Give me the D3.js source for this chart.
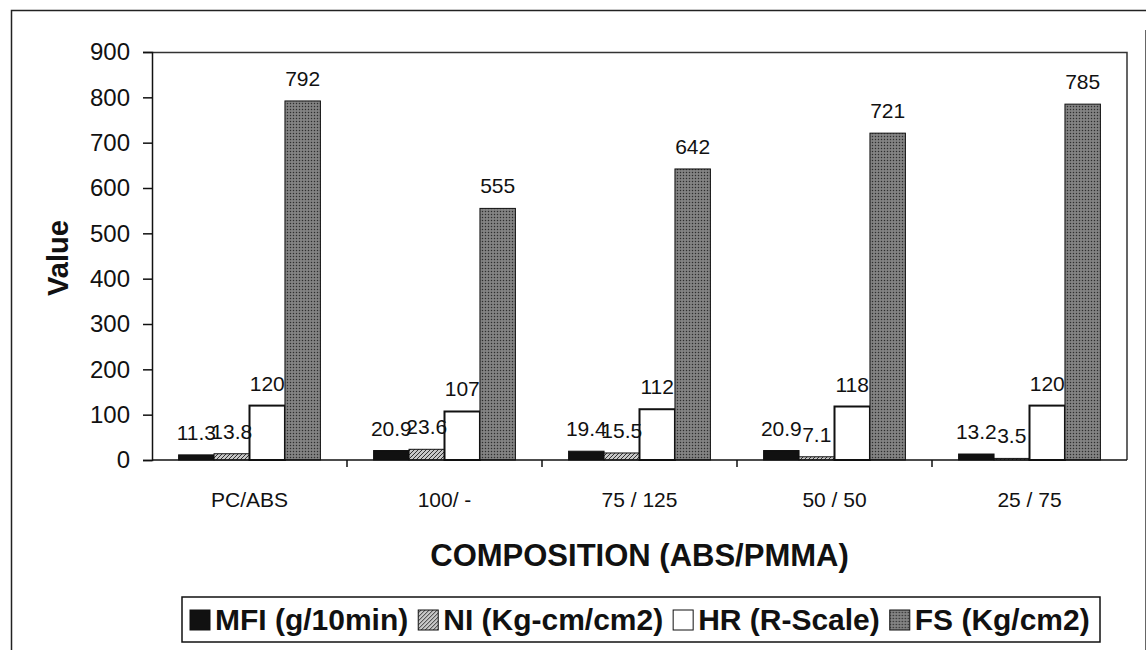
<!DOCTYPE html>
<html>
<head>
<meta charset="utf-8">
<script src="https://cdn.jsdelivr.net/npm/d3@7"></script>
<style>
  body { margin: 0; background: #fff; }
  text { font-family: "Liberation Sans", Arial, sans-serif; fill: #111; }
</style>
</head>
<body>
<svg id="chart" width="1146" height="650"></svg>
<script>
// data
var categories = ["PC/ABS", "100/ -", "75 / 125", "50 / 50", "25 / 75"];
var seriesNames = ["MFI (g/10min)", "NI (Kg-cm/cm2)", "HR (R-Scale)", "FS (Kg/cm2)"];
var mfi = [11.3, 20.9, 19.4, 20.9, 13.2];
var ni = [13.8, 23.6, 15.5, 7.1, 3.5];
var hr = [120, 107, 112, 118, 120];
var fs = [792, 555, 642, 721, 785];
var yTicks = [0, 100, 200, 300, 400, 500, 600, 700, 800, 900];

drawChart();

function drawChart() {
  var svg = d3.select("#chart");
  svg.selectAll("*").remove();

  var margin = {top: 52, right: 19, bottom: 190, left: 152};
  var width = 1146 - margin.left - margin.right,
      height = 650 - margin.top - margin.bottom;

  // patterns for the textured bars
  var defs = svg.append("defs");
  var p1 = defs.append("pattern").attr("id", "niFill")
      .attr("width", 4).attr("height", 4).attr("patternUnits", "userSpaceOnUse");
  p1.append("rect").attr("width", 4).attr("height", 4).attr("fill", "#c8c8c8");
  p1.append("path").attr("d", "M0,4 L4,0").attr("stroke", "#333").attr("stroke-width", 1);
  var p2 = defs.append("pattern").attr("id", "fsFill")
      .attr("width", 3).attr("height", 3).attr("patternUnits", "userSpaceOnUse");
  p2.append("rect").attr("width", 3).attr("height", 3).attr("fill", "#767676");
  p2.append("rect").attr("width", 1).attr("height", 1).attr("fill", "#2e2e2e");
  p2.append("rect").attr("x", 1.5).attr("y", 1.5).attr("width", 1).attr("height", 1).attr("fill", "#a8a8a8");

  // outer frame
  svg.append("path")
      .attr("d", "M11.5,660 L11.5,10.5 L1146,10.5")
      .attr("fill", "none").attr("stroke", "#222").attr("stroke-width", 1.5);
  svg.append("line")
      .attr("x1", 1145.5).attr("x2", 1145.5).attr("y1", 30).attr("y2", 660)
      .attr("stroke", "#666").attr("stroke-width", 1);

  var g = svg.append("g").attr("transform", "translate(" + margin.left + "," + margin.top + ")");

  var x0 = d3.scaleBand().domain(categories).range([0, width]).padding(0);
  var x1 = d3.scaleBand().domain(seriesNames).range([0, x0.bandwidth()])
      .paddingInner(0).paddingOuter(0.75);
  var y = d3.scaleLinear().domain([0, 900]).range([height, 0]);

  var values = [mfi, ni, hr, fs];
  var fills = ["#111", "url(#niFill)", "#fff", "url(#fsFill)"];

  // plot frame (top and right)
  g.append("path")
      .attr("d", "M0,0.5 L" + width + ",0.5 L" + width + "," + height)
      .attr("fill", "none").attr("stroke", "#333").attr("stroke-width", 1.5);

  var rows = [];
  categories.forEach(function(c, i) {
    seriesNames.forEach(function(s, j) {
      rows.push({cat: c, series: s, idx: j, value: values[j][i]});
    });
  });

  g.selectAll(".bar")
    .data(rows)
    .enter().append("rect")
      .attr("class", "bar")
      .attr("x", function(d) { return x0(d.cat) + x1(d.series); })
      .attr("y", function(d) { return y(d.value); })
      .attr("width", x1.bandwidth())
      .attr("height", function(d) { return height - y(d.value); })
      .attr("fill", function(d) { return fills[d.idx]; })
      .attr("stroke", "#111")
      .attr("stroke-width", function(d) { return d.idx == 2 ? 2 : 1; });

  g.selectAll(".lbl")
    .data(rows)
    .enter().append("text")
      .attr("class", "lbl")
      .attr("x", function(d) { return x0(d.cat) + x1(d.series) + x1.bandwidth() / 2; })
      .attr("y", function(d) { return y(d.value) - 15; })
      .attr("text-anchor", "middle")
      .style("font-size", "21px")
      .text(function(d) { return d.value; });

  // y axis
  var yAxis = g.append("g")
      .call(d3.axisLeft(y).tickValues(yTicks).tickSize(9).tickPadding(13));
  yAxis.selectAll("text").style("font-size", "24px").style("fill", "#111");
  yAxis.selectAll("line, path").attr("stroke", "#111").attr("stroke-width", 1.5);

  // x axis, ticks on category boundaries
  var xAxis = g.append("g")
      .attr("transform", "translate(0," + height + ")");
  xAxis.append("line").attr("x1", 0).attr("x2", width)
      .attr("stroke", "#111").attr("stroke-width", 1.5);
  xAxis.selectAll(".tk")
    .data(categories.slice(1))
    .enter().append("line")
      .attr("x1", function(d) { return x0(d); })
      .attr("x2", function(d) { return x0(d); })
      .attr("y1", 0).attr("y2", 7)
      .attr("stroke", "#111").attr("stroke-width", 1.5);
  xAxis.selectAll(".cat")
    .data(categories)
    .enter().append("text")
      .attr("x", function(d) { return x0(d) + x0.bandwidth() / 2; })
      .attr("y", 47)
      .attr("text-anchor", "middle")
      .style("font-size", "21px")
      .text(function(d) { return d; });

  // axis titles
  g.append("text")
      .attr("transform", "translate(-84," + (height / 2 + 2) + ") rotate(-90)")
      .attr("text-anchor", "middle")
      .style("font-size", "29px").style("font-weight", "bold")
      .text("Value");
  g.append("text")
      .attr("x", width / 2).attr("y", height + 106)
      .attr("text-anchor", "middle")
      .style("font-size", "31px").style("font-weight", "bold")
      .text("COMPOSITION (ABS/PMMA)");

  // legend
  var legend = svg.append("g").attr("transform", "translate(182,597)");
  legend.append("rect")
      .attr("width", 918).attr("height", 45)
      .attr("fill", "#fff").attr("stroke", "#111").attr("stroke-width", 1.5);
  var item = legend.selectAll(".item")
    .data(seriesNames)
    .enter().append("g");
  item.append("rect")
      .attr("y", 13).attr("width", 20).attr("height", 20)
      .attr("fill", function(d, i) { return fills[i]; })
      .attr("stroke", "#111").attr("stroke-width", 1);
  var ltext = item.append("text")
      .attr("x", 25).attr("y", 33)
      .style("font-size", "27px").style("font-weight", "bold")
      .text(function(d) { return d; });
  // size the legend text so the row fills the box, then lay items out in a row
  var total = 0;
  ltext.each(function() { total += this.getComputedTextLength(); });
  var fsz = 27 * (918 - 18 - 4 * 25 - 3 * 10) / total;
  ltext.style("font-size", fsz + "px");
  var lx = 8;
  item.each(function() {
    var it = d3.select(this);
    it.attr("transform", "translate(" + lx + ",0)");
    lx += 25 + it.select("text").node().getComputedTextLength() + 10;
  });
}
</script>
</body>
</html>
